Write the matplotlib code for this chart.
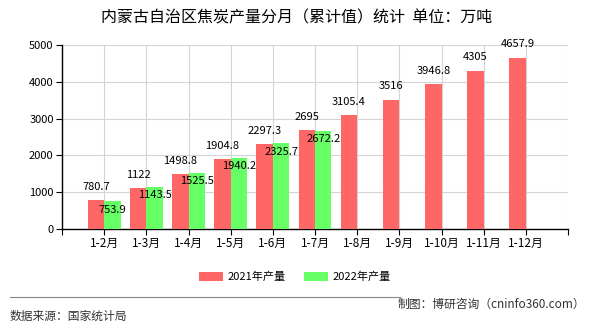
import matplotlib
matplotlib.use("Agg")
import matplotlib.pyplot as plt
from matplotlib.lines import Line2D
from matplotlib.patches import Patch

plt.rcParams['font.family'] = ['Noto Sans CJK SC', 'DejaVu Sans']

categories = ["1-2月", "1-3月", "1-4月", "1-5月", "1-6月", "1-7月",
              "1-8月", "1-9月", "1-10月", "1-11月", "1-12月"]
values_2021 = [780.7, 1122, 1498.8, 1904.8, 2297.3, 2695, 3105.4, 3516, 3946.8, 4305, 4657.9]
values_2022 = [753.9, 1143.5, 1525.5, 1940.2, 2325.7, 2672.2]
series_names = ["2021年产量", "2022年产量"]
title = "内蒙古自治区焦炭产量分月（累计值）统计  单位：万吨"
source_text = "数据来源：国家统计局"
credit_text = "制图：博研咨询（cninfo360.com）"

RED = "#ff6666"
GREEN = "#66ff66"
W, H = 590, 330

fig = plt.figure(figsize=(W / 100, H / 100), dpi=100)
ax = fig.add_axes([62 / W, 1 - 229 / H, (568 - 62) / W, (229 - 45) / H])

n = len(categories)
bw = 0.39
xs = list(range(1, n + 1))

def fmt(v):
    return f"{v:g}" if v != int(v) else f"{int(v)}"

ax.bar([x - bw / 2 for x in xs], values_2021, width=bw, color=RED, zorder=3)
ax.bar([x + bw / 2 for x in xs[:len(values_2022)]], values_2022, width=bw, color=GREEN, zorder=3)

for x, v in zip(xs, values_2021):
    ax.annotate(fmt(v), xy=(x - bw / 2, v), xytext=(0, 9.5), textcoords='offset points',
                ha='center', va='center', fontsize=8, zorder=5)
for x, v in zip(xs, values_2022):
    ax.annotate(fmt(v), xy=(x + bw / 2, v), xytext=(0, -6), textcoords='offset points',
                ha='center', va='center', fontsize=8, zorder=5)

ax.set_xlim(0, n + 1)
ax.set_ylim(0, 5000)
ax.set_xticks(range(0, n + 2))
ax.set_xticklabels([""] + categories + [""], fontsize=8.5)
ax.set_yticks(range(0, 5001, 1000))
ax.set_yticklabels([str(v) for v in range(0, 5001, 1000)], fontsize=8)
ax.grid(True, color="#d4d4d4", linewidth=0.8, zorder=0)
for s in ["top", "right"]:
    ax.spines[s].set_visible(False)
for s in ["left", "bottom"]:
    ax.spines[s].set_color("black")
    ax.spines[s].set_linewidth(1.0)
ax.tick_params(axis='both', length=4, width=0.8, color='black', pad=2)

fig.text(297 / W, 1 - 18 / H, title, ha='center', va='center', fontsize=11.5)

handles = [Patch(facecolor=RED), Patch(facecolor=GREEN)]
fig.legend(handles, series_names, loc='center', bbox_to_anchor=(295 / W, 1 - 277 / H),
           ncol=2, frameon=False, fontsize=8, handlelength=2.2, handleheight=0.9,
           columnspacing=1.6, handletextpad=0.4)

fig.add_artist(Line2D([10 / W, 400 / W], [1 - 297 / H] * 2, color="#888888", linewidth=0.8))
fig.text(10 / W, 1 - 316 / H, source_text, ha='left', va='center', fontsize=8.5, color="#333333")
fig.text(585 / W, 1 - 304 / H, credit_text, ha='right', va='center', fontsize=8.5, color="#333333")

fig.savefig("out.png", dpi=100, facecolor="white")
